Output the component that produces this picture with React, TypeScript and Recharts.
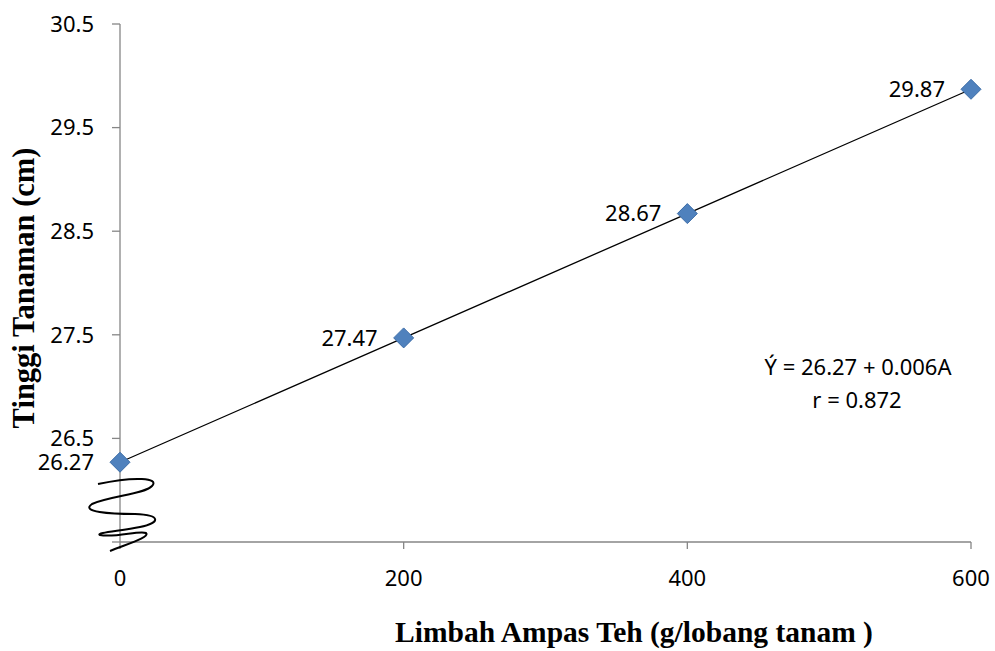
import { ComposedChart, Line, XAxis, YAxis, LabelList } from "recharts";

const DOSES = [0, 200, 400, 600];
const HEIGHTS = [26.27, 27.47, 28.67, 29.87];
const X_TICKS = [0, 200, 400, 600];
const Y_TICKS = [25.5, 26.5, 27.5, 28.5, 29.5, 30.5];

const BLUE = "#4F81BD";
const BLUE_EDGE = "#3C6DA8";
const AXIS = "#868686";
const TICK_FONT = "'Noto Sans', 'Open Sans', sans-serif";
const TITLE_FONT = "'Liberation Serif', 'Times New Roman', serif";

const data = DOSES.map((x, i) => ({ x, y: HEIGHTS[i] }));

function Diamond(props: any) {
  const { cx, cy, index } = props;
  if (cx == null || cy == null) return <g key={index} />;
  const r = 10;
  return (
    <polygon
      key={index}
      points={`${cx},${cy - r} ${cx + r},${cy} ${cx},${cy + r} ${cx - r},${cy}`}
      fill={BLUE}
      stroke={BLUE_EDGE}
      strokeWidth={1}
    />
  );
}

export default function App() {
  return (
    <div style={{ position: "absolute", left: 0, top: 0, width: 995, height: 651, background: "#fff" }}>
      <ComposedChart
        width={995}
        height={651}
        data={data}
        margin={{ top: 24, right: 24, bottom: 79, left: 60 }}
      >
        <XAxis
          dataKey="x"
          type="number"
          domain={[0, 600]}
          ticks={X_TICKS}
          height={30}
          tickSize={7}
          tickMargin={21}
          axisLine={{ stroke: AXIS, strokeWidth: 1.3 }}
          tickLine={{ stroke: AXIS, strokeWidth: 1.3 }}
          tick={{ fill: "#000", fontSize: 22, fontFamily: TICK_FONT }}
        />
        <YAxis
          type="number"
          domain={[25.5, 30.5]}
          ticks={Y_TICKS}
          width={60}
          tickSize={8}
          tickMargin={18}
          interval={0}
          tickFormatter={(v: number) => (v === 25.5 ? "" : v.toFixed(1))}
          axisLine={{ stroke: AXIS, strokeWidth: 1.3 }}
          tickLine={{ stroke: AXIS, strokeWidth: 1.3 }}
          tick={{ fill: "#000", fontSize: 22, fontFamily: TICK_FONT }}
        />
        <Line
          dataKey="y"
          type="linear"
          stroke="#000"
          strokeWidth={1.3}
          dot={Diamond}
          activeDot={false}
          isAnimationActive={false}
        >
          <LabelList
            dataKey="y"
            position="left"
            offset={26}
            formatter={(v: any) => Number(v).toFixed(2)}
            style={{ fill: "#000", fontSize: 22, fontFamily: TICK_FONT }}
          />
        </Line>
      </ComposedChart>
      <svg
        width={995}
        height={651}
        style={{ position: "absolute", left: 0, top: 0, pointerEvents: "none" }}
      >
        {/* axis break */}
        <path
          d="M 98 484 C 135 476 160 478 152 486 C 145 494 110 496 92 504 C 80 512 110 514 135 514 C 162 515 160 523 140 527 C 120 531 95 533 100 535 C 115 538 140 530 146 533 C 150 537 130 543 110 551"
          fill="none"
          stroke="#000"
          strokeWidth={2}
        />
        <text
          x={858}
          y={375}
          textAnchor="middle"
          fontSize={22}
          fontFamily={TICK_FONT}
          fill="#000"
        >
          Ý = 26.27 + 0.006A
        </text>
        <text
          x={857}
          y={408}
          textAnchor="middle"
          fontSize={22}
          fontFamily={TICK_FONT}
          fill="#000"
        >
          r = 0.872
        </text>
        <text
          x={634}
          y={642}
          textAnchor="middle"
          fontSize={29.5}
          fontWeight="bold"
          fontFamily={TITLE_FONT}
          fill="#000"
        >
          Limbah Ampas Teh (g/lobang tanam )
        </text>
        <text
          transform="translate(34, 288) rotate(-90)"
          textAnchor="middle"
          fontSize={30.5}
          fontWeight="bold"
          fontFamily={TITLE_FONT}
          fill="#000"
        >
          Tinggi Tanaman (cm)
        </text>
      </svg>
    </div>
  );
}
